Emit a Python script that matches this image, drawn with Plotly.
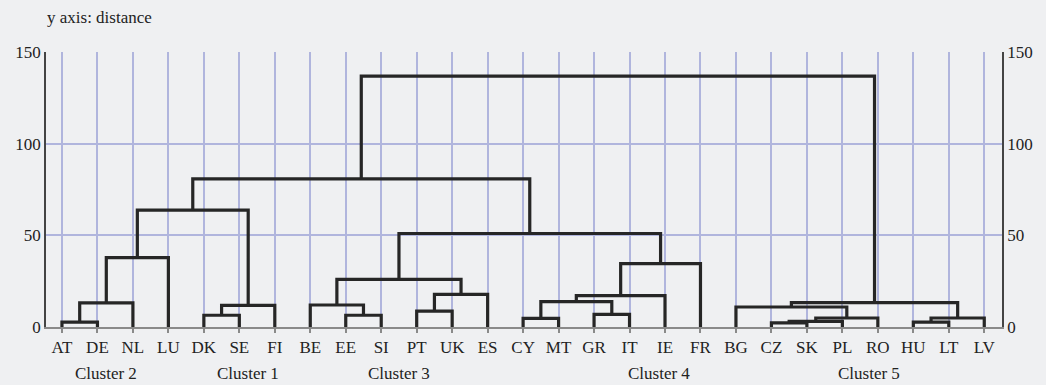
import plotly.graph_objects as go

# ---- data ----
leaves = ["AT", "DE", "NL", "LU", "DK", "SE", "FI", "BE", "EE", "SI", "PT", "UK", "ES",
          "CY", "MT", "GR", "IT", "IE", "FR", "BG", "CZ", "SK", "PL", "RO", "HU", "LT", "LV"]

# merges: (new node, left child, right child, distance)
merge_node = ["m1", "m2", "m3", "m4", "m5", "m6", "m7", "m8", "m9", "m10", "m11", "m12", "m13",
              "m14", "m15", "m16", "m17", "m18", "m19", "m20", "m21", "m22", "m23", "m24", "m25", "m26"]
merge_left = ["AT", "m1", "m2", "DK", "m4", "m3", "EE", "BE", "PT", "m9", "m8", "CY", "GR",
              "m12", "m14", "m15", "m11", "m6", "CZ", "m19", "m20", "BG", "HU", "m23", "m22", "m18"]
merge_right = ["DE", "NL", "LU", "SE", "FI", "m5", "SI", "m7", "UK", "ES", "m10", "MT", "IT",
               "m13", "IE", "FR", "m16", "m17", "SK", "PL", "RO", "m21", "LT", "LV", "m24", "m25"]
merge_height = [2.7, 13.2, 37.8, 6.4, 11.8, 63.7, 6.4, 12.0, 8.7, 17.8, 26.0, 4.7, 6.9,
                13.8, 17.1, 34.6, 51.0, 80.8, 2.2, 3.1, 4.9, 10.9, 2.7, 4.9, 13.3, 136.8]

cluster_names = ["Cluster 2", "Cluster 1", "Cluster 3", "Cluster 4", "Cluster 5"]
cluster_label_x = [1.25, 5.25, 9.5, 16.84, 22.75]

y_ticks = [0, 50, 100, 150]

# ---- build dendrogram segments ----
pos = {name: (i, 0.0) for i, name in enumerate(leaves)}
xs, ys = [], []
for node, l, r, h in zip(merge_node, merge_left, merge_right, merge_height):
    xl, yl = pos[l]
    xr, yr = pos[r]
    xs += [xl, xl, xr, xr, None]
    ys += [yl, h, h, yr, None]
    pos[node] = ((xl + xr) / 2, h)

FAM = "Liberation Serif"
bg = "#eff0f2"
grid = "#b0b5dd"
txt = "#222222"

W, H = 1046, 385
L, R, T, B = 46, 44, 52, 58
plot_w, plot_h = W - L - R, H - T - B

def font(size):
    return dict(family=FAM, size=size, color=txt)

fig = go.Figure()
fig.add_trace(go.Scatter(x=xs, y=ys, mode="lines",
                         line=dict(color="#262626", width=3.2),
                         hoverinfo="skip", showlegend=False))
# invisible trace for the right-hand axis
fig.add_trace(go.Scatter(x=[0], y=[0], yaxis="y2", mode="markers",
                         marker=dict(opacity=0), hoverinfo="skip", showlegend=False))

for name, x in zip(cluster_names, cluster_label_x):
    fig.add_annotation(x=x, y=(H - B - 373) / plot_h, xref="x", yref="paper", text=name,
                       showarrow=False, font=font(17), xanchor="center", yanchor="middle")

fig.add_annotation(x=(99 - L) / plot_w, y=(H - B - 17) / plot_h, xref="paper", yref="paper",
                   text="y axis: distance", showarrow=False, font=font(17),
                   xanchor="center", yanchor="middle")

fig.update_layout(
    width=W, height=H,
    margin=dict(l=L, r=R, t=T, b=B, autoexpand=False),
    paper_bgcolor=bg, plot_bgcolor=bg,
    xaxis=dict(range=[-0.45, 26.5], tickmode="array", tickvals=list(range(len(leaves))),
               ticktext=leaves, showgrid=True, gridcolor=grid, gridwidth=2,
               zeroline=False, showline=True, linecolor="#8a8a8a", linewidth=2,
               ticks="outside", ticklen=4, tickcolor="#8a8a8a", tickwidth=1.5,
               automargin=False, tickfont=font(17)),
    yaxis=dict(range=[0, 150], tickmode="array", tickvals=y_ticks,
               showgrid=True, gridcolor=grid, gridwidth=2, zeroline=False,
               showline=True, linecolor="#444", linewidth=1.5, ticks="",
               automargin=False, tickfont=font(17)),
    yaxis2=dict(range=[0, 150], tickmode="array", tickvals=y_ticks, overlaying="y",
                side="right", showgrid=False, zeroline=False, showline=True,
                linecolor="#444", linewidth=1.5, ticks="", automargin=False,
                tickfont=font(17)),
)

post = (
    "document.body.style.margin='0';"
    "var st=document.createElement('style');"
    "st.textContent=\"svg text{font-family:'Liberation Serif','Times New Roman',serif !important;}\";"
    "document.head.appendChild(st);"
)

fig.write_html("out.html", config={"displayModeBar": False}, post_script=post)
